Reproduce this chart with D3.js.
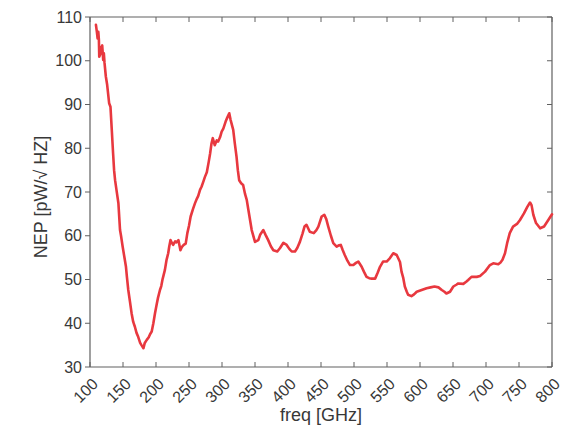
<!DOCTYPE html>
<html><head><meta charset="utf-8">
<script src="https://cdn.jsdelivr.net/npm/d3@7"></script>
<style>body{margin:0;background:#fff}svg{display:block}text{font-family:"Liberation Sans",Arial,Helvetica,sans-serif}</style>
</head><body><svg id="c" width="586" height="432"></svg>
<script>
const freq = [109,110.5,111.5,112.6,113.5,114,115.5,117,118.5,120,121,122,124,126,129,131,133,135,136.5,138,140,143,145.5,147,149.5,152,154.5,156,158,160.5,163,165.5,168,170.5,173,176,178,181,183,186,189,191,193.5,196,198.5,201,203,206,208,210,213.5,216,218.5,220,222,224,226,229,231,234,237,239,242,245,247.5,250,252.5,256,259,262,264,266.7,269,272,274,277,280,282,284,286,289,292,294,297,299.5,302,305.5,308,311,313,317,319.5,322,324,326,329,332,335,337.5,340,345,350,355,358,362.6,366,370,374,377.8,383.8,388,393,398,402,405.6,410.6,414,418,422,425,428,433,439,443,446,451,455,458,461,465,468.6,473.7,477,480,483,486,490,494,499,503,506.5,511.6,515,519,523,527,532,536,539.4,544,549.5,554.5,559.5,564.7,569.7,572,574.7,577,580,582,587,591,595,602.5,610,616,622,628,633,637,640,645.5,650.5,655,658,665.6,670,673,678,686,691,698.5,706,711,718.6,722,725,728.8,732,736,741,747,751.5,757.5,762.6,766.7,769,771.7,775.8,782,788,794.4,800];
const nep = [108.2,106.5,105.1,106.6,104.7,100.9,101.5,103.0,103.5,100.2,101.7,99.5,96.4,94.5,90.3,89.5,84.2,78.8,75,72.7,70.6,67.5,61.3,60,57.5,55.2,52.9,50.5,47.6,45,42.3,40.3,39.2,37.8,36.9,35.5,35.0,34.3,35.5,36.2,36.8,37.5,38.1,40,42.3,44.3,45.8,47.6,48.5,50.1,52.2,54.5,56,57.5,59,58.4,57.9,58.7,58.5,59,56.7,57.4,57.9,58.2,60.6,62.3,64.4,66.1,67.4,68.5,69.1,70.5,71.2,72.5,73.4,74.5,77,78.8,81,82.3,80.7,81.8,81.5,82.5,83.8,84.5,86.1,87,88,86.5,84.2,81,78.1,75,72.7,72,71.6,69.5,68.2,65.9,61.3,58.6,59,60.3,61.3,60.2,59,57.6,56.7,56.4,57.2,58.4,57.9,57.0,56.4,56.4,57.2,58.6,60.5,62.1,62.5,60.9,60.6,61.3,62.1,64.4,64.8,63.8,62.1,60,58.3,57.5,57.8,57.9,56.7,55.6,54.3,53.3,53.3,53.8,54.1,52.9,51.8,50.6,50.3,50.2,50.2,51.6,52.9,54.1,54.1,54.9,56,55.6,54,51.8,50.3,48.4,47.2,46.5,46.2,46.6,47.2,47.6,48,48.2,48.4,48.2,47.6,47.2,46.8,47.2,48.4,48.8,49.1,49,49.5,49.9,50.6,50.6,50.8,51.8,53.3,53.7,53.5,53.9,54.5,56,58.3,60.6,62.1,62.7,63.6,65.1,66.6,67.6,67,64.8,62.9,61.7,62.1,63.6,64.9];
const xTicks = [100,150,200,250,300,350,400,450,500,550,600,650,700,750,800];
const yTicks = [30,40,50,60,70,80,90,100,110];
const xLabel = "freq [GHz]";
const yLabel = "NEP [pW/\u221A HZ]";

const L = 90, R = 552, T = 17, B = 367;
const svg = d3.select("#c");
const x = d3.scaleLinear().domain([100, 800]).range([L, R]);
const y = d3.scaleLinear().domain([30, 110]).range([B, T]);
const axisCol = "#606060", textCol = "#383838";

const g = svg.append("g");
g.append("line").attr("x1", L).attr("x2", R).attr("y1", B).attr("y2", B);
g.append("line").attr("x1", L).attr("x2", R).attr("y1", T).attr("y2", T);
g.append("line").attr("x1", L).attr("x2", L).attr("y1", T).attr("y2", B);
g.append("line").attr("x1", R).attr("x2", R).attr("y1", T).attr("y2", B);
g.selectAll("line").attr("stroke", axisCol).attr("stroke-width", 1.2);

xTicks.forEach(t => {
  g.append("line").attr("x1", x(t)).attr("x2", x(t)).attr("y1", B).attr("y2", B - 5).attr("stroke", axisCol).attr("stroke-width", 1);
  g.append("line").attr("x1", x(t)).attr("x2", x(t)).attr("y1", T).attr("y2", T + 5).attr("stroke", axisCol).attr("stroke-width", 1);
  svg.append("text").attr("transform", `translate(${x(t) + 5},${B + 14}) rotate(-45)`)
    .attr("text-anchor", "end").attr("dy", "0.35em").attr("font-size", 16).attr("fill", textCol).text(t);
});
yTicks.forEach(t => {
  g.append("line").attr("x1", L - 5).attr("x2", L).attr("y1", y(t)).attr("y2", y(t)).attr("stroke", axisCol).attr("stroke-width", 1);
  g.append("line").attr("x1", R - 5).attr("x2", R).attr("y1", y(t)).attr("y2", y(t)).attr("stroke", axisCol).attr("stroke-width", 1);
  svg.append("text").attr("x", L - 8).attr("y", y(t)).attr("dy", "0.35em").attr("text-anchor", "end")
    .attr("font-size", 16).attr("fill", textCol).text(t);
});

svg.append("text").attr("x", 321).attr("y", 421).attr("text-anchor", "middle")
  .attr("font-size", 18).attr("fill", textCol).text(xLabel);
svg.append("text").attr("transform", `translate(47,197) rotate(-90)`).attr("text-anchor", "middle")
  .attr("font-size", 18).attr("fill", textCol).text(yLabel);

const data = freq.map((f, i) => [f, nep[i]]);
svg.append("path").datum(data)
  .attr("d", d3.line().x(d => x(d[0])).y(d => y(d[1])))
  .attr("fill", "none").attr("stroke", "#e8383f").attr("stroke-width", 2.6)
  .attr("stroke-linejoin", "round").attr("stroke-linecap", "round");
</script></body></html>
